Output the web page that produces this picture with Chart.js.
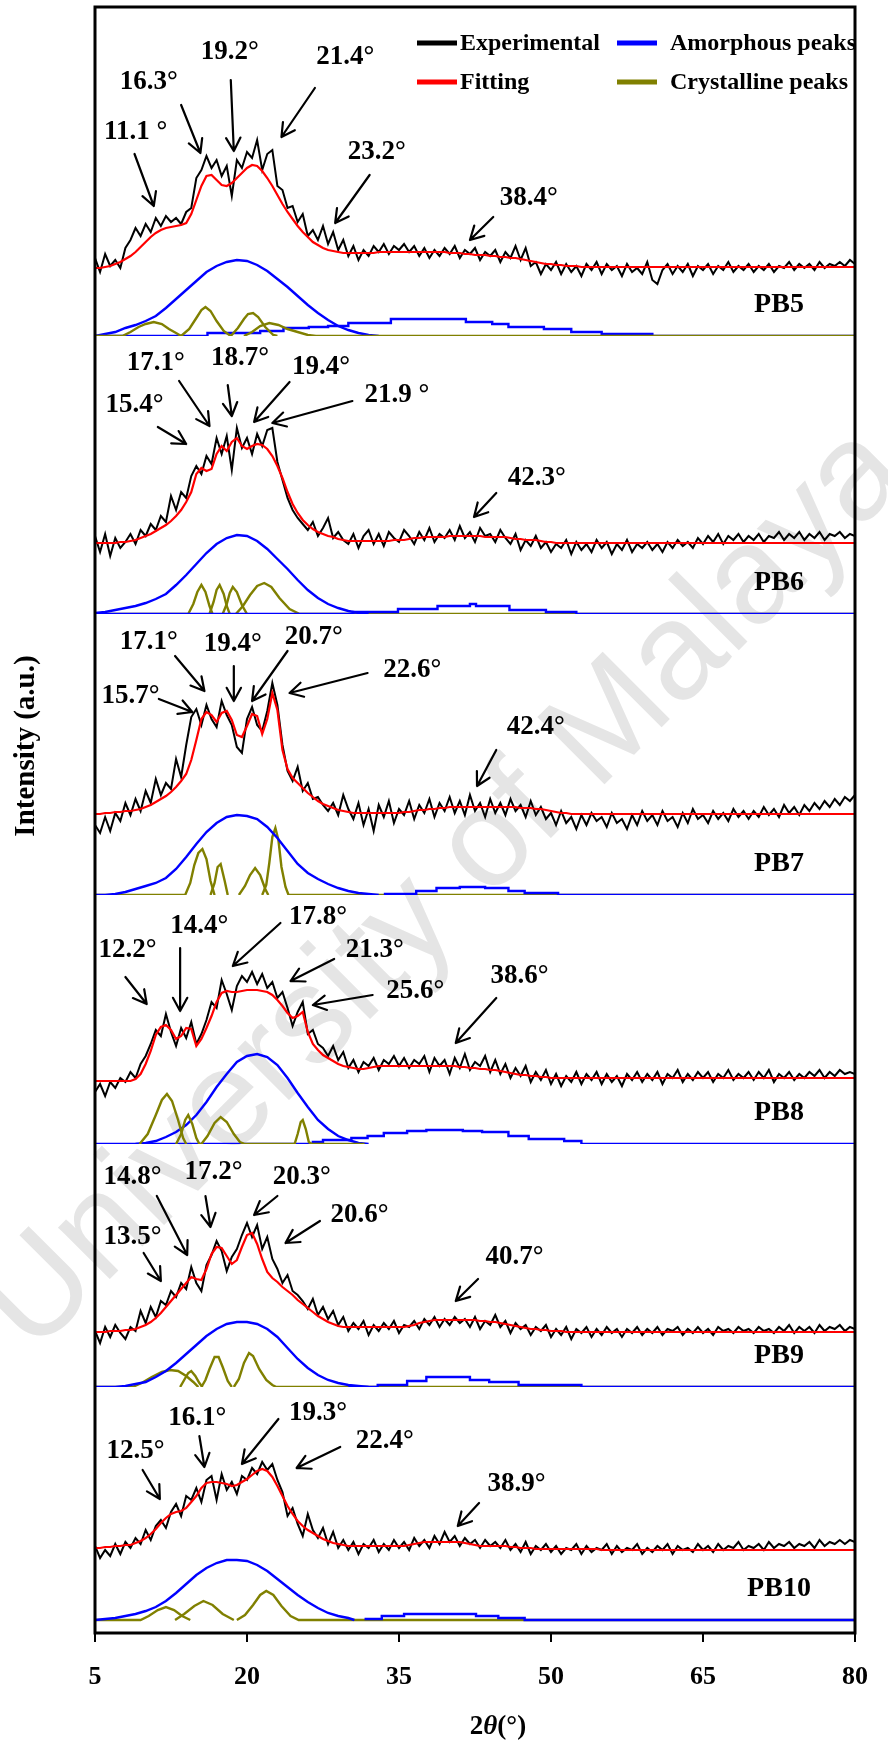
<!DOCTYPE html>
<html>
<head>
<meta charset="utf-8">
<title>XRD deconvolution PB5 - PB10</title>
<script src="https://cdn.jsdelivr.net/npm/chart.js@4.4.1/dist/chart.umd.min.js"></script>
<style>
  html, body { margin: 0; padding: 0; background: #ffffff; }
  canvas { display: block; }
</style>
</head>
<body>
<canvas id="xrdChart" width="888" height="1743"></canvas>
<script>
// 2θ sampling grid of the scans (0.5° step)
const ANGLES = [
  5, 5.5, 6, 6.5, 7, 7.5, 8, 8.5, 9, 9.5,
  10, 10.5, 11, 11.5, 12, 12.5, 13, 13.5, 14, 14.5,
  15, 15.5, 16, 16.5, 17, 17.5, 18, 18.5, 19, 19.5,
  20, 20.5, 21, 21.5, 22, 22.5, 23, 23.5, 24, 24.5,
  25, 25.5, 26, 26.5, 27, 27.5, 28, 28.5, 29, 29.5,
  30, 30.5, 31, 31.5, 32, 32.5, 33, 33.5, 34, 34.5,
  35, 35.5, 36, 36.5, 37, 37.5, 38, 38.5, 39, 39.5,
  40, 40.5, 41, 41.5, 42, 42.5, 43, 43.5, 44, 44.5,
  45, 45.5, 46, 46.5, 47, 47.5, 48, 48.5, 49, 49.5,
  50, 50.5, 51, 51.5, 52, 52.5, 53, 53.5, 54, 54.5,
  55, 55.5, 56, 56.5, 57, 57.5, 58, 58.5, 59, 59.5,
  60, 60.5, 61, 61.5, 62, 62.5, 63, 63.5, 64, 64.5,
  65, 65.5, 66, 66.5, 67, 67.5, 68, 68.5, 69, 69.5,
  70, 70.5, 71, 71.5, 72, 72.5, 73, 73.5, 74, 74.5,
  75, 75.5, 76, 76.5, 77, 77.5, 78, 78.5, 79, 79.5,
  80
];
const X_TICKS = [5, 20, 35, 50, 65, 80];

// ---------- PB5 ----------
const pb5Exp = [
  78, 64, 82, 70, 76, 68, 88, 96, 108, 100,
  112, 104, 118, 110, 120, 114, 118, 112, 124, 128,
  158, 166, 180, 168, 176, 160, 170, 140, 176, 168,
  184, 178, 196, 166, 182, 186, 150, 146, 128, 130,
  114, 122, 100, 106, 96, 110, 92, 104, 86, 96,
  80, 90, 76, 86, 80, 90, 84, 92, 82, 90,
  86, 92, 84, 90, 80, 88, 78, 86, 80, 88,
  82, 90, 78, 86, 82, 88, 76, 84, 80, 86,
  74, 84, 78, 90, 76, 88, 70, 74, 62, 72,
  66, 74, 62, 72, 64, 70, 60, 72, 66, 74,
  62, 72, 66, 70, 60, 72, 64, 68, 62, 74,
  56, 52, 66, 72, 62, 70, 64, 72, 60, 70,
  66, 72, 62, 70, 66, 74, 64, 70, 66, 72,
  64, 70, 66, 72, 64, 70, 68, 74, 66, 72,
  68, 72, 66, 74, 68, 72, 70, 74, 70, 76,
  72
];
const pb5Fit = [
  68, 68, 69, 70, 72, 74, 77, 80, 84, 89,
  94, 99, 103, 106, 108, 109, 110, 111, 113, 122,
  136, 150, 160, 161, 156, 151, 150, 153, 158, 163,
  168, 171, 170, 165, 158, 150, 141, 132, 124, 117,
  110, 104, 99, 94, 91, 88, 86, 85, 84, 83,
  83, 83, 83, 83, 83, 83, 84, 84, 84, 84,
  84, 84, 84, 84, 84, 84, 84, 84, 84, 84,
  83, 83, 83, 82, 82, 81, 81, 81, 80, 80,
  79, 79, 78, 78, 77, 76, 75, 74, 73, 72,
  72, 71, 71, 70, 70, 70, 69, 69, 69, 69,
  69, 69, 69, 69, 69, 69, 69, 69, 69, 69,
  69, 69, 69, 69, 69, 69, 69, 69, 69, 69,
  69, 69, 69, 69, 69, 69, 69, 69, 69, 69,
  69, 69, 69, 69, 69, 69, 69, 69, 69, 69,
  69, 69, 69, 69, 69, 69, 69, 69, 69, 69,
  69
];
const pb5AmorMain = [[5, 0], [6, 2], [7, 4], [8, 8], [9, 11], [10, 15], [11, 20], [12, 28], [13, 37], [14, 46], [15, 55], [16, 64], [17, 70], [18, 74], [19, 76], [20, 75], [21, 71], [22, 65], [23, 57], [24, 49], [25, 40], [26, 31], [27, 23], [28, 16], [29, 10], [30, 6], [31, 3], [32, 1], [33, 0]];
const pb5AmorBroad = [[5, 0], [16.1, 3], [21.3, 5], [23.6, 8], [26.1, 9], [28, 10], [30, 13], [34.2, 17], [41.6, 14], [44.2, 12], [45.8, 9], [49.3, 7], [52, 4], [55, 2], [60, 0], [80, 0]];
const pb5Cryst = [
  [[5, 0], [7.7, 0], [8.5, 4], [9.3, 9], [10, 12], [10.8, 14], [11.6, 12], [12.3, 7], [13, 3], [13.5, 0]],
  [[13.5, 0], [14.3, 7], [15, 18], [15.5, 26], [15.9, 29], [16.4, 25], [17, 15], [17.7, 5], [18.4, 0]],
  [[18.4, 0], [19.1, 8], [19.7, 17], [20.1, 22], [20.6, 23], [21.1, 19], [21.8, 9], [22.6, 1], [23, 0]],
  [[19.7, 0], [20.5, 4], [21.3, 10], [22.2, 13], [23.1, 11], [24, 7], [25, 4], [26, 1], [26.8, 0], [80, 0]]
];

// ---------- PB6 ----------
const pb6Exp = [
  78, 62, 80, 58, 76, 66, 72, 80, 70, 84,
  78, 90, 84, 98, 92, 118, 104, 122, 116, 138,
  148, 140, 158, 150, 176, 160, 178, 144, 186, 166,
  176, 160, 180, 168, 184, 186, 152, 134, 116, 104,
  96, 90, 84, 92, 78, 86, 96, 76, 82, 74,
  70, 80, 66, 78, 84, 70, 80, 68, 82, 76,
  72, 84, 78, 70, 82, 74, 86, 72, 80, 76,
  84, 74, 88, 76, 82, 72, 86, 78, 80, 72,
  84, 76, 70, 80, 64, 74, 68, 78, 66, 72,
  62, 70, 66, 74, 60, 72, 64, 70, 62, 74,
  66, 72, 60, 70, 64, 74, 62, 70, 66, 72,
  64, 70, 62, 72, 66, 74, 68, 72, 66, 76,
  70, 78, 72, 80, 70, 78, 74, 80, 72, 78,
  74, 80, 72, 78, 76, 82, 74, 80, 76, 82,
  74, 80, 76, 82, 74, 80, 78, 82, 76, 80,
  78
];
const pb6Fit = [
  71, 71, 71, 71, 71, 72, 72, 73, 74, 76,
  78, 80, 83, 86, 89, 93, 98, 104, 112, 122,
  140, 146, 143, 145, 160, 168, 163, 172, 176, 168,
  165, 168, 170, 169, 165, 158, 148, 136, 122, 110,
  101, 94, 89, 85, 82, 80, 78, 77, 75, 74,
  73, 73, 73, 73, 73, 73, 73, 73, 73, 74,
  74, 74, 75, 76, 76, 77, 77, 77, 77, 77,
  78, 78, 78, 78, 78, 78, 78, 77, 77, 77,
  77, 77, 76, 75, 75, 74, 74, 74, 73, 72,
  72, 71, 71, 71, 71, 71, 71, 71, 71, 71,
  71, 71, 71, 71, 71, 71, 71, 71, 71, 71,
  71, 71, 71, 71, 71, 71, 71, 71, 71, 71,
  71, 71, 71, 71, 71, 71, 71, 71, 71, 71,
  71, 71, 71, 71, 71, 71, 71, 71, 71, 71,
  71, 71, 71, 71, 71, 71, 71, 71, 71, 71,
  71
];
const pb6AmorMain = [[5, 1], [6, 2], [7, 4], [8, 6], [9, 8], [10, 11], [11, 15], [12, 20], [13, 29], [14, 39], [15, 50], [16, 61], [17, 70], [18, 76], [19, 79], [20, 78], [21, 73], [22, 65], [23, 55], [24, 45], [25, 34], [26, 24], [27, 16], [28, 10], [29, 6], [30, 3], [31, 1], [32, 0]];
const pb6AmorBroad = [[5, 0], [30.5, 2], [34.9, 5], [38.8, 8], [42, 10], [42.6, 8], [45.9, 4], [49.5, 2], [52.5, 0], [80, 0]];
const pb6Cryst = [
  [[5, 0], [14.2, 0], [14.7, 10], [15.1, 22], [15.5, 29], [15.9, 22], [16.3, 8], [16.6, 0]],
  [[16.3, 0], [16.7, 12], [17, 24], [17.3, 29], [17.7, 20], [18, 8], [18.3, 0]],
  [[17.6, 0], [18, 10], [18.3, 21], [18.6, 27], [19, 22], [19.5, 9], [20, 0]],
  [[18.9, 0], [19.6, 8], [20.3, 19], [21, 28], [21.7, 31], [22.4, 27], [23.2, 16], [24.2, 5], [25.2, 0], [80, 0]]
];

// ---------- PB7 ----------
const pb7Exp = [
  70, 62, 78, 64, 82, 74, 92, 80, 96, 84,
  104, 92, 116, 100, 112, 106, 136, 118, 150, 178,
  186, 170, 190, 176, 168, 194, 180, 170, 148, 142,
  176, 188, 170, 164, 184, 212, 190, 150, 124, 114,
  128, 104, 112, 96, 98, 90, 84, 92, 80, 100,
  86, 76, 92, 70, 86, 64, 90, 78, 94, 72,
  86, 80, 94, 76, 90, 82, 96, 78, 92, 84,
  98, 82, 94, 80, 100, 84, 92, 78, 96, 82,
  92, 80, 96, 84, 90, 78, 94, 80, 88, 76,
  82, 70, 84, 72, 78, 66, 80, 70, 82, 74,
  78, 68, 82, 72, 76, 66, 80, 70, 84, 74,
  80, 70, 84, 74, 78, 68, 82, 72, 86, 76,
  80, 72, 84, 76, 82, 74, 86, 78, 84, 76,
  84, 78, 88, 80, 86, 78, 90, 82, 88, 80,
  90, 84, 92, 86, 94, 88, 96, 90, 98, 94,
  100
];
const pb7Fit = [
  81, 81, 82, 82, 83, 83, 84, 84, 85, 86,
  88, 90, 93, 96, 99, 103, 108, 114, 121, 135,
  155, 176, 183, 180, 173, 182, 184, 175, 160, 158,
  169, 181, 179, 161, 176, 202, 185, 145, 126, 117,
  112, 107, 102, 98, 94, 91, 89, 87, 85, 84,
  83, 82, 82, 82, 82, 82, 82, 82, 82, 82,
  82, 83, 83, 84, 85, 85, 86, 86, 87, 87,
  88, 88, 88, 88, 88, 88, 88, 88, 88, 88,
  88, 88, 88, 88, 87, 87, 87, 86, 86, 85,
  84, 83, 82, 82, 81, 81, 81, 81, 81, 81,
  81, 81, 81, 81, 81, 81, 81, 81, 81, 81,
  81, 81, 81, 81, 81, 81, 81, 81, 81, 81,
  81, 81, 81, 81, 81, 81, 81, 81, 81, 81,
  81, 81, 81, 81, 81, 81, 81, 81, 81, 81,
  81, 81, 81, 81, 81, 81, 81, 81, 81, 81,
  81
];
const pb7AmorMain = [[5, 0], [6, 0], [7, 1], [8, 3], [9, 6], [10, 9], [11, 12], [12, 17], [13, 26], [14, 38], [15, 51], [16, 63], [17, 72], [18, 78], [19, 80], [20, 79], [21, 76], [22, 68], [23, 57], [24, 44], [25, 31], [26, 22], [27, 16], [28, 11], [29, 7], [30, 4], [31, 2], [32, 1], [33, 0]];
const pb7AmorBroad = [[33.5, 1], [36.7, 4], [38.7, 7], [41, 8], [43.5, 7], [45.8, 4], [47.4, 2], [50.7, 0], [80, 0]];
const pb7Cryst = [
  [[5, 0], [13.9, 0], [14.4, 12], [14.8, 30], [15.2, 42], [15.6, 46], [16, 36], [16.4, 14], [16.8, 0]],
  [[16.4, 0], [16.8, 12], [17.1, 28], [17.4, 31], [17.8, 14], [18.1, 0]],
  [[19.2, 0], [19.8, 9], [20.3, 20], [20.8, 27], [21.3, 20], [21.8, 6], [22.1, 0]],
  [[21.5, 0], [21.9, 10], [22.2, 32], [22.5, 58], [22.8, 67], [23.1, 55], [23.4, 28], [23.8, 8], [24.1, 0], [80, 0]]
];

// ---------- PB8 ----------
const pb8Exp = [
  52, 60, 48, 62, 56, 66, 62, 72, 66, 80,
  88, 100, 114, 108, 130, 112, 98, 116, 106, 122,
  100, 110, 124, 142, 136, 164, 150, 134, 158, 168,
  162, 172, 160, 170, 156, 162, 146, 152, 136, 118,
  132, 142, 110, 114, 100, 96, 88, 98, 84, 92,
  76, 84, 72, 82, 78, 86, 74, 84, 80, 88,
  78, 86, 76, 84, 80, 88, 72, 86, 78, 84,
  70, 86, 76, 90, 74, 82, 78, 88, 72, 84,
  70, 80, 66, 76, 68, 78, 62, 72, 64, 74,
  60, 70, 58, 68, 62, 72, 60, 70, 64, 72,
  60, 70, 62, 68, 58, 70, 64, 72, 62, 70,
  64, 72, 60, 70, 66, 74, 62, 70, 64, 72,
  66, 72, 62, 70, 66, 74, 64, 70, 66, 72,
  64, 72, 66, 74, 62, 70, 66, 72, 64, 70,
  66, 72, 68, 74, 66, 72, 68, 74, 70, 72,
  70
];
const pb8Fit = [
  63, 63, 63, 63, 63, 63, 63, 63, 65, 70,
  80, 93, 109, 117, 119, 114, 105, 108, 116, 115,
  98, 105, 116, 128, 142, 151, 153, 152, 152, 153,
  154, 154, 154, 153, 152, 149, 144, 138, 131, 126,
  128, 132, 112, 100, 94, 89, 86, 83, 80, 78,
  77, 76, 75, 75, 76, 77, 78, 78, 78, 78,
  78, 78, 78, 78, 78, 78, 78, 78, 78, 78,
  78, 78, 77, 77, 76, 76, 75, 75, 74, 74,
  73, 72, 71, 70, 69, 69, 68, 68, 67, 67,
  66, 66, 66, 66, 66, 66, 66, 66, 66, 66,
  66, 66, 66, 66, 66, 66, 66, 66, 66, 66,
  66, 66, 66, 66, 66, 66, 66, 66, 66, 66,
  66, 66, 66, 66, 66, 66, 66, 66, 66, 66,
  66, 66, 66, 66, 66, 66, 66, 66, 66, 66,
  66, 66, 66, 66, 66, 66, 66, 66, 66, 66,
  66
];
const pb8AmorMain = [[9, 0], [10, 1], [11, 3], [12, 7], [13, 12], [14, 19], [15, 29], [16, 42], [17, 57], [18, 70], [19, 82], [20, 88], [21, 90], [22, 87], [23, 79], [24, 66], [25, 51], [26, 37], [27, 24], [28, 15], [29, 8], [30, 4], [31, 1], [32, 0]];
const pb8AmorBroad = [[5, 0], [26.5, 2], [27.5, 4], [30.3, 6], [31.9, 8], [33.5, 11], [35.8, 13], [37.7, 14], [41.3, 13], [43.2, 12], [45.8, 8], [47.8, 5], [51.3, 3], [53, 0], [80, 0]];
const pb8Cryst = [
  [[9.4, 0], [10.2, 10], [11, 29], [11.6, 44], [12.1, 50], [12.6, 43], [13.2, 24], [13.7, 6], [14, 0]],
  [[13, 0], [13.5, 10], [13.9, 24], [14.2, 29], [14.6, 20], [15, 6], [15.3, 0], [15.5, 0]],
  [[15.5, 0], [16.1, 8], [16.8, 21], [17.4, 27], [18, 22], [18.7, 10], [19.3, 2], [19.8, 0], [24.7, 0]],
  [[24.7, 0], [25, 10], [25.3, 22], [25.5, 24], [25.8, 15], [26.1, 2], [26.4, 0], [31.6, 0]]
];

// ---------- PB9 ----------
const pb9Exp = [
  56, 44, 60, 50, 62, 54, 48, 60, 56, 76,
  64, 80, 70, 86, 82, 96, 90, 104, 98, 120,
  104, 96, 122, 132, 146, 136, 116, 130, 138, 152,
  164, 150, 162, 138, 150, 128, 118, 104, 112, 96,
  92, 86, 78, 88, 72, 80, 68, 76, 62, 70,
  56, 64, 58, 66, 52, 62, 56, 64, 58, 66,
  54, 62, 60, 66, 58, 68, 62, 70, 60, 68,
  62, 70, 64, 68, 60, 70, 58, 66, 62, 72,
  60, 66, 54, 64, 58, 62, 52, 60, 56, 62,
  50, 58, 52, 60, 48, 58, 54, 60, 50, 58,
  52, 60, 54, 58, 50, 58, 54, 60, 52, 58,
  54, 60, 52, 58, 56, 60, 52, 58, 54, 60,
  54, 58, 52, 60, 56, 58, 54, 60, 56, 58,
  54, 60, 56, 58, 54, 60, 56, 62, 54, 60,
  56, 60, 54, 62, 56, 60, 58, 62, 56, 60,
  58
];
const pb9Fit = [
  55, 55, 55, 56, 56, 56, 57, 57, 58, 60,
  62, 65, 69, 74, 80, 86, 92, 98, 104, 110,
  108, 107, 118, 133, 140, 139, 131, 123, 127, 140,
  152, 154, 143, 128, 115, 109, 105, 100, 96, 92,
  87, 83, 79, 75, 71, 68, 65, 63, 61, 60,
  60, 60, 60, 60, 60, 60, 60, 60, 60, 60,
  60, 60, 61, 62, 64, 65, 66, 67, 67, 67,
  67, 67, 67, 67, 67, 67, 66, 66, 65, 65,
  64, 63, 62, 61, 60, 59, 58, 58, 57, 57,
  56, 56, 56, 55, 55, 55, 55, 55, 55, 55,
  55, 55, 55, 55, 55, 55, 55, 55, 55, 55,
  55, 55, 55, 55, 55, 55, 55, 55, 55, 55,
  55, 55, 55, 55, 55, 55, 55, 55, 55, 55,
  55, 55, 55, 55, 55, 55, 55, 55, 55, 55,
  55, 55, 55, 55, 55, 55, 55, 55, 55, 55,
  55
];
const pb9AmorMain = [[5, 0], [6, 0], [7, 0], [8, 1], [9, 3], [10, 5], [11, 10], [12, 16], [13, 24], [14, 33], [15, 42], [16, 51], [17, 58], [18, 63], [19, 65], [20, 65], [21, 63], [22, 58], [23, 50], [24, 39], [25, 28], [26, 19], [27, 12], [28, 7], [29, 4], [30, 2], [31, 1], [32, 0]];
const pb9AmorBroad = [[30, 0], [32.9, 2], [35.8, 6], [37.7, 10], [42, 7], [43.9, 5], [46.8, 2], [53, 0], [80, 0]];
const pb9Cryst = [
  [[5, 0], [8.7, 0], [9.6, 4], [10.6, 10], [11.6, 15], [12.4, 17], [13.2, 16], [14, 11], [14.7, 5], [15.2, 0]],
  [[13.4, 0], [13.8, 7], [14.2, 14], [14.5, 16], [14.9, 11], [15.3, 4], [15.6, 0]],
  [[15.5, 0], [15.9, 7], [16.3, 18], [16.8, 30], [17.2, 30], [17.6, 20], [18.1, 6], [18.5, 0]],
  [[18.7, 0], [19.2, 8], [19.7, 24], [20.2, 34], [20.6, 31], [21.2, 18], [21.9, 7], [22.5, 2], [22.9, 0], [80, 0]]
];

// ---------- PB10 ----------
const pb10Exp = [
  74, 62, 70, 64, 76, 66, 78, 72, 82, 76,
  90, 80, 94, 100, 92, 108, 116, 104, 124, 120,
  132, 118, 140, 144, 120, 146, 130, 138, 126, 144,
  140, 152, 146, 158, 150, 156, 140, 128, 104, 112,
  96, 84, 106, 90, 82, 92, 76, 88, 72, 80,
  70, 78, 66, 76, 72, 80, 68, 76, 70, 80,
  72, 78, 70, 82, 74, 80, 72, 84, 76, 88,
  78, 84, 74, 82, 76, 80, 72, 80, 74, 78,
  72, 80, 70, 76, 68, 78, 66, 74, 70, 76,
  68, 74, 66, 72, 70, 76, 66, 74, 68, 72,
  70, 76, 66, 74, 68, 72, 70, 76, 66, 72,
  68, 74, 70, 76, 66, 74, 70, 72, 68, 76,
  70, 74, 68, 76, 70, 74, 72, 78, 70, 74,
  72, 76, 70, 78, 72, 76, 74, 78, 72, 76,
  74, 78, 72, 80, 74, 78, 76, 80, 76, 80,
  78
];
const pb10Fit = [
  72, 72, 73, 73, 74, 74, 75, 75, 77, 79,
  82, 86, 91, 97, 102, 106, 108, 109, 112, 118,
  124, 132, 137, 138, 138, 137, 136, 134, 135, 138,
  141, 145, 149, 151, 149, 143, 134, 124, 114, 106,
  99, 94, 90, 87, 84, 81, 79, 77, 76, 75,
  74, 74, 74, 74, 74, 74, 74, 74, 74, 74,
  74, 74, 75, 76, 77, 78, 78, 78, 78, 78,
  78, 78, 78, 77, 76, 75, 74, 74, 74, 74,
  74, 74, 73, 73, 72, 72, 72, 71, 71, 71,
  71, 71, 71, 71, 71, 71, 71, 71, 71, 71,
  70, 70, 70, 70, 70, 70, 70, 70, 70, 70,
  70, 70, 70, 70, 70, 70, 70, 70, 70, 70,
  70, 70, 70, 70, 70, 70, 70, 70, 70, 70,
  70, 70, 70, 70, 70, 70, 70, 70, 70, 70,
  70, 70, 70, 70, 70, 70, 70, 70, 70, 70,
  70
];
const pb10AmorMain = [[5, 0], [6, 1], [7, 2], [8, 4], [9, 6], [10, 9], [11, 13], [12, 19], [13, 27], [14, 36], [15, 45], [16, 52], [17, 57], [18, 60], [19, 60], [20, 59], [21, 55], [22, 49], [23, 41], [24, 33], [25, 25], [26, 18], [27, 12], [28, 7], [29, 4], [30, 2], [30.6, 0]];
const pb10AmorBroad = [[31.6, 1], [33.3, 4], [35.5, 6], [42.6, 4], [44.8, 2], [47.4, 0], [80, 0]];
const pb10Cryst = [
  [[5, 0], [9.5, 0], [10.3, 4], [11.2, 10], [12, 13], [12.8, 10], [13.6, 4], [14.4, 0]],
  [[12.9, 0], [13.8, 6], [14.8, 14], [15.7, 19], [16.6, 15], [17.6, 6], [18.7, 0]],
  [[19, 0], [19.8, 5], [20.6, 15], [21.3, 25], [21.9, 29], [22.6, 25], [23.4, 14], [24.3, 4], [25.1, 0], [80, 0]]
];

// Peak labels: text, text centre, arrow start, arrow tip (2θ, intensity)
const ANNOTATIONS = {
  y5: [
    ['11.1 °', [9.0, 204], [8.9, 182], [10.8, 130]],
    ['16.3°', [10.3, 254], [13.5, 231], [15.4, 183]],
    ['19.2°', [18.3, 284], [18.4, 256], [18.7, 185]],
    ['21.4°', [29.7, 279], [26.7, 248], [23.4, 199]],
    ['23.2°', [32.8, 184], [32.1, 161], [28.7, 113]],
    ['38.4°', [47.8, 138], [44.3, 119], [42.0, 96]]
  ],
  y6: [
    ['17.1°', [11.0, 251], [13.3, 233], [16.3, 188]],
    ['18.7°', [19.3, 256], [18.1, 229], [18.5, 198]],
    ['19.4°', [27.3, 247], [24.2, 232], [20.7, 192]],
    ['21.9 °', [34.8, 219], [30.4, 213], [22.5, 191]],
    ['15.4°', [8.9, 209], [11.2, 187], [14.0, 170]],
    ['42.3°', [48.6, 136], [44.6, 121], [42.4, 97]]
  ],
  y7: [
    ['17.1°', [10.3, 253], [12.9, 239], [15.8, 204]],
    ['19.4°', [18.6, 251], [18.7, 229], [18.7, 194]],
    ['20.7°', [26.6, 258], [24.0, 244], [20.5, 194]],
    ['22.6°', [36.3, 225], [31.9, 222], [24.2, 202]],
    ['15.7°', [8.5, 199], [11.3, 196], [14.6, 183]],
    ['42.4°', [48.5, 168], [44.6, 145], [42.7, 109]]
  ],
  y8: [
    ['12.2°', [8.2, 194], [8.0, 167], [10.1, 140]],
    ['14.4°', [15.3, 218], [13.4, 196], [13.4, 133]],
    ['17.8°', [27.0, 227], [23.3, 221], [18.6, 178]],
    ['21.3°', [32.6, 194], [28.6, 185], [24.3, 163]],
    ['25.6°', [36.6, 153], [32.4, 149], [26.5, 139]],
    ['38.6°', [46.9, 168], [44.6, 146], [40.6, 101]]
  ],
  y9: [
    ['14.8°', [8.7, 210], [11.1, 191], [14.1, 132]],
    ['17.2°', [16.7, 215], [15.9, 191], [16.4, 160]],
    ['20.3°', [25.4, 210], [23.0, 191], [20.7, 172]],
    ['20.6°', [31.1, 172], [27.2, 166], [23.8, 144]],
    ['13.5°', [8.7, 150], [9.8, 134], [11.5, 106]],
    ['40.7°', [46.4, 130], [42.8, 108], [40.6, 86]]
  ],
  y10: [
    ['12.5°', [9.0, 169], [9.7, 150], [11.4, 121]],
    ['16.1°', [15.1, 202], [15.3, 184], [15.8, 153]],
    ['19.3°', [27.0, 207], [23.1, 201], [19.5, 156]],
    ['22.4°', [33.6, 179], [29.2, 173], [24.9, 152]],
    ['38.9°', [46.6, 136], [42.9, 117], [40.8, 94]]
  ]
};

const COLORS = {
  experimental: '#000000',
  fitting: '#ff0000',
  amorphous: '#0000ff',
  crystalline: '#808000'
};
const SERIF = '"Liberation Serif", "Times New Roman", serif';

// panel layout: y range in intensity units, which component group is drawn on top
const panels = [
  { id: 'y5', name: 'PB5', exp: pb5Exp, fit: pb5Fit, amor: [pb5AmorMain, pb5AmorBroad], cryst: pb5Cryst, crystOnTop: true, min: 0, max: 329 },
  { id: 'y6', name: 'PB6', exp: pb6Exp, fit: pb6Fit, amor: [pb6AmorMain, pb6AmorBroad], cryst: pb6Cryst, crystOnTop: false, min: 0, max: 278 },
  { id: 'y7', name: 'PB7', exp: pb7Exp, fit: pb7Fit, amor: [pb7AmorMain, pb7AmorBroad], cryst: pb7Cryst, crystOnTop: false, min: 0, max: 281 },
  { id: 'y8', name: 'PB8', exp: pb8Exp, fit: pb8Fit, amor: [pb8AmorMain, pb8AmorBroad], cryst: pb8Cryst, crystOnTop: true, min: 0, max: 249 },
  { id: 'y9', name: 'PB9', exp: pb9Exp, fit: pb9Fit, amor: [pb9AmorMain, pb9AmorBroad], cryst: pb9Cryst, crystOnTop: false, min: 0, max: 243 },
  { id: 'y10', name: 'PB10', exp: pb10Exp, fit: pb10Fit, amor: [pb10AmorMain, pb10AmorBroad], cryst: pb10Cryst, crystOnTop: false, min: -13, max: 233 }
];

function onGrid(values) {
  return values.map((v, i) => ({ x: ANGLES[i], y: v }));
}

function fromPairs(list) {
  return list.map(p => ({ x: p[0], y: p[1] }));
}

function lineSet(data, yAxisID, color, width, order, extra) {
  return Object.assign({
    data: data,
    xAxisID: 'x',
    yAxisID: yAxisID,
    borderColor: color,
    borderWidth: width,
    pointRadius: 0,
    tension: 0,
    fill: false,
    order: order
  }, extra || {});
}

const datasets = [];
panels.forEach(p => {
  const crystOrder = p.crystOnTop ? 2 : 3;
  const amorOrder = p.crystOnTop ? 3 : 2;
  datasets.push(lineSet(onGrid(p.fit), p.id, COLORS.fitting, 2.2, 0));
  datasets.push(lineSet(onGrid(p.exp), p.id, COLORS.experimental, 2, 1));
  datasets.push(lineSet(fromPairs(p.amor[0]), p.id, COLORS.amorphous, 2.4, amorOrder));
  datasets.push(lineSet(fromPairs(p.amor[1]), p.id, COLORS.amorphous, 2.4, amorOrder, { stepped: true }));
  p.cryst.forEach(peak => {
    datasets.push(lineSet(fromPairs(peak), p.id, COLORS.crystalline, 2.4, crystOrder));
  });
});

const scales = {
  x: {
    type: 'linear',
    position: 'bottom',
    min: 5,
    max: 80,
    afterBuildTicks: scale => { scale.ticks = X_TICKS.map(v => ({ value: v })); },
    afterFit: scale => { scale.height = 110; },
    grid: { display: true, drawOnChartArea: false, drawTicks: true, tickLength: 9, color: '#000', lineWidth: 2 },
    border: { display: false },
    ticks: {
      color: '#000',
      padding: 20,
      maxRotation: 0,
      autoSkip: false,
      font: { family: SERIF, weight: 'bold', size: 26 }
    }
  }
};
// stacked panels: last defined ends up on top of the stack
[...panels].reverse().forEach(p => {
  scales[p.id] = {
    type: 'linear',
    axis: 'y',
    position: 'left',
    stack: 'panels',
    stackWeight: p.max - p.min,
    offset: false,
    min: p.min,
    max: p.max,
    afterFit: scale => { scale.width = 0; },
    grid: { display: false, drawTicks: false },
    border: { display: false },
    ticks: { display: false }
  };
});

function drawArrow(ctx, x1, y1, x2, y2) {
  const a = Math.atan2(y2 - y1, x2 - x1);
  const head = 15;
  const spread = 0.5;
  ctx.beginPath();
  ctx.moveTo(x1, y1);
  ctx.lineTo(x2, y2);
  ctx.moveTo(x2 - head * Math.cos(a - spread), y2 - head * Math.sin(a - spread));
  ctx.lineTo(x2, y2);
  ctx.lineTo(x2 - head * Math.cos(a + spread), y2 - head * Math.sin(a + spread));
  ctx.stroke();
}

const decorations = {
  id: 'decorations',
  beforeDraw(chart) {
    const ctx = chart.ctx;
    ctx.save();
    ctx.fillStyle = '#ffffff';
    ctx.fillRect(0, 0, chart.width, chart.height);
    // repository watermark
    ctx.translate(445, 890);
    ctx.rotate(-45 * Math.PI / 180);
    ctx.font = '138px "Liberation Sans", Arial, sans-serif';
    ctx.fillStyle = '#e5e5e5';
    ctx.textAlign = 'center';
    ctx.textBaseline = 'middle';
    ctx.fillText('University of Malaya', 0, 0);
    ctx.restore();
  },
  afterDatasetsDraw(chart) {
    const ctx = chart.ctx;
    const area = chart.chartArea;
    const xs = chart.scales.x;
    ctx.save();

    // frame
    ctx.strokeStyle = '#000';
    ctx.lineWidth = 3;
    ctx.strokeRect(area.left, area.top, area.right - area.left, area.bottom - area.top);

    // peak labels with arrows, sample names
    panels.forEach(p => {
      const ys = chart.scales[p.id];
      ctx.fillStyle = '#000';
      ctx.strokeStyle = '#000';
      ctx.lineWidth = 2.2;
      ctx.lineCap = 'round';
      ctx.lineJoin = 'round';
      ctx.font = 'bold 27px ' + SERIF;
      ctx.textAlign = 'center';
      ctx.textBaseline = 'middle';
      ANNOTATIONS[p.id].forEach(([text, at, from, to]) => {
        ctx.fillText(text, xs.getPixelForValue(at[0]), ys.getPixelForValue(at[1]));
        drawArrow(ctx,
          xs.getPixelForValue(from[0]), ys.getPixelForValue(from[1]),
          xs.getPixelForValue(to[0]), ys.getPixelForValue(to[1]));
      });
      ctx.font = 'bold 28px ' + SERIF;
      ctx.fillText(p.name, xs.getPixelForValue(72.5), ys.getPixelForValue(31));
    });

    // legend
    const legendItems = [
      { label: 'Experimental', color: COLORS.experimental, x: 417, tx: 460, y: 43 },
      { label: 'Fitting', color: COLORS.fitting, x: 417, tx: 460, y: 82 },
      { label: 'Amorphous peaks', color: COLORS.amorphous, x: 617, tx: 670, y: 43 },
      { label: 'Crystalline peaks', color: COLORS.crystalline, x: 617, tx: 670, y: 82 }
    ];
    ctx.font = 'bold 24px ' + SERIF;
    ctx.textAlign = 'left';
    ctx.textBaseline = 'middle';
    ctx.lineCap = 'butt';
    legendItems.forEach(item => {
      ctx.strokeStyle = item.color;
      ctx.lineWidth = 5;
      ctx.beginPath();
      ctx.moveTo(item.x, item.y);
      ctx.lineTo(item.x + 40, item.y);
      ctx.stroke();
      ctx.fillStyle = '#000';
      ctx.fillText(item.label, item.tx, item.y + 1);
    });

    // y axis title
    ctx.save();
    ctx.translate(27, 746);
    ctx.rotate(-Math.PI / 2);
    ctx.font = 'bold 29px ' + SERIF;
    ctx.textAlign = 'center';
    ctx.fillStyle = '#000';
    ctx.fillText('Intensity (a.u.)', 0, 0);
    ctx.restore();

    // x axis title: 2θ(°)
    const parts = [['2', 'bold'], ['θ', 'italic bold'], ['(°)', 'bold']];
    let total = 0;
    parts.forEach(([t, style]) => {
      ctx.font = style + ' 27px ' + SERIF;
      total += ctx.measureText(t).width;
    });
    let cx = 498 - total / 2;
    ctx.textAlign = 'left';
    ctx.textBaseline = 'middle';
    ctx.fillStyle = '#000';
    parts.forEach(([t, style]) => {
      ctx.font = style + ' 27px ' + SERIF;
      ctx.fillText(t, cx, 1727);
      cx += ctx.measureText(t).width;
    });

    ctx.restore();
  }
};

new Chart(document.getElementById('xrdChart'), {
  type: 'line',
  data: { datasets: datasets },
  options: {
    responsive: false,
    animation: false,
    devicePixelRatio: 1,
    parsing: true,
    layout: { padding: { left: 95, right: 18, top: 7, bottom: 0 } },
    plugins: {
      legend: { display: false },
      tooltip: { enabled: false }
    },
    scales: scales
  },
  plugins: [decorations]
});
</script>
</body>
</html>
